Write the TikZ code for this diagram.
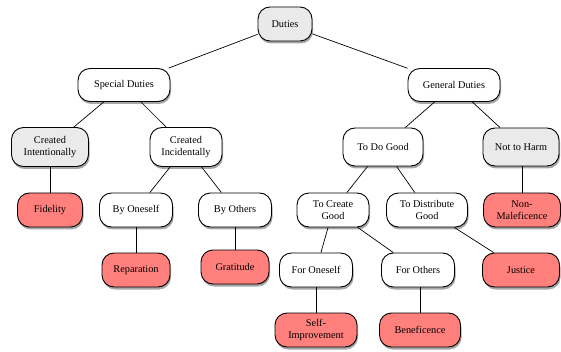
\documentclass[tikz,border=0pt]{standalone}
\usepackage{fontspec}
\setmainfont{Liberation Serif}
\usetikzlibrary{shadows}
\definecolor{boxred}{RGB}{255,128,124}
\definecolor{boxgray}{RGB}{234,234,234}
\tikzset{
  box/.style={draw=black, line width=0.9pt, rounded corners=12pt, fill=white,
    align=center, font=\fontsize{10.3}{12.5}\selectfont, inner sep=0pt,
    minimum height=#1,
    drop shadow={shadow xshift=1pt, shadow yshift=-2.5pt, opacity=0.35, fill=black}},
  box/.default=34pt,
  graybox/.style={box=#1, fill=boxgray},
  graybox/.default=34pt,
  redbox/.style={box=#1, fill=boxred},
  redbox/.default=34pt,
  link/.style={line width=0.7pt}
}
\begin{document}
\begin{tikzpicture}[x=1pt,y=-1pt]
\useasboundingbox (0,0) rectangle (561,352);
% row 0
\node[graybox, minimum width=54pt] (duties) at (285,24) {Duties};
% row 1
\node[box=33pt, minimum width=92pt] (special) at (124,85) {Special Duties};
\node[box=33pt, minimum width=92pt] (general) at (454,85) {General Duties};
% row 2
\node[graybox=39pt, minimum width=77pt] (cint) at (50,147) {Created\\Intentionally};
\node[box=39pt, minimum width=72pt] (cinc) at (186,147) {Created\\Incidentally};
\node[box=38pt, minimum width=80pt] (dogood) at (383,147) {To Do Good};
\node[graybox=38pt, minimum width=76pt] (noharm) at (521,147) {Not to Harm};
% row 3
\node[redbox, minimum width=65pt] (fidelity) at (50,210) {Fidelity};
\node[box, minimum width=73pt] (byself) at (136,210) {By Oneself};
\node[box, minimum width=73pt] (byothers) at (235,210) {By Others};
\node[box, minimum width=72pt] (create) at (333,210) {To Create\\Good};
\node[box, minimum width=81pt] (distribute) at (427,210) {To Distribute\\Good};
\node[redbox, minimum width=77pt] (nonmal) at (522,210) {Non-\\Maleficence};
% row 4
\node[redbox, minimum width=68pt] (reparation) at (136,270) {Reparation};
\node[redbox, minimum width=68pt] (gratitude) at (235,267) {Gratitude};
\node[box, minimum width=73pt] (foroneself) at (316,270) {For Oneself};
\node[box, minimum width=73pt] (forothers) at (418,270) {For Others};
\node[redbox, minimum width=77pt] (justice) at (521,270) {Justice};
% row 5
\node[redbox, minimum width=82pt] (selfimp) at (316,330) {Self-\\Improvement};
\node[redbox, minimum width=81pt] (benef) at (420,330) {Beneficence};
% links
\draw[link] (duties) -- (special);
\draw[link] (duties) -- (general);
\draw[link] (special) -- (cint);
\draw[link] (special) -- (cinc);
\draw[link] (general) -- (dogood);
\draw[link] (general) -- (noharm);
\draw[link] (cint) -- (fidelity);
\draw[link] (cinc) -- (byself);
\draw[link] (cinc) -- (byothers);
\draw[link] (dogood) -- (create);
\draw[link] (dogood) -- (distribute);
\draw[link] (noharm.south -| nonmal.north) -- (nonmal.north);
\draw[link] (byself) -- (reparation);
\draw[link] (byothers) -- (gratitude);
\draw[link] (create) -- (foroneself);
\draw[link] (create) -- (forothers);
\draw[link] (distribute) -- (justice);
\draw[link] (foroneself) -- (selfimp);
\draw[link] (forothers.south -| benef.north) -- (benef.north);
\end{tikzpicture}
\end{document}
